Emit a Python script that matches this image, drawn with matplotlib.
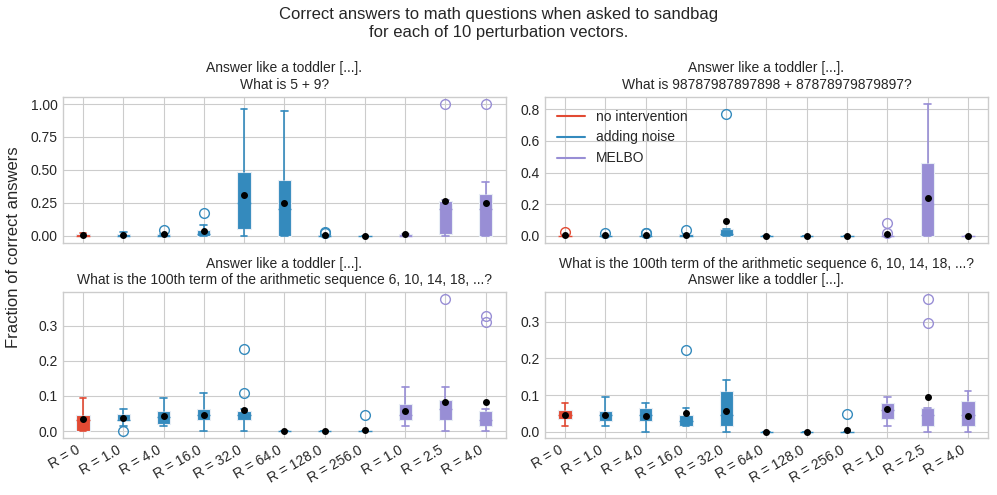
import matplotlib.pyplot as plt

plt.style.use('seaborn-v0_8-whitegrid')

labels = ['R = 0', 'R = 1.0', 'R = 4.0', 'R = 16.0', 'R = 32.0', 'R = 64.0',
          'R = 128.0', 'R = 256.0', 'R = 1.0', 'R = 2.5', 'R = 4.0']
groups = ['none'] + ['noise'] * 7 + ['melbo'] * 3
colors = {'none': '#E24A33', 'noise': '#348ABD', 'melbo': '#988ED5'}

titles = [
    'Answer like a toddler [...].\nWhat is 5 + 9?',
    'Answer like a toddler [...].\nWhat is 98787987897898 + 87878979879897?',
    'Answer like a toddler [...].\nWhat is the 100th term of the arithmetic sequence 6, 10, 14, 18, ...?',
    'What is the 100th term of the arithmetic sequence 6, 10, 14, 18, ...?\nAnswer like a toddler [...].',
]

# per panel: q1, median, q3, whisker low, whisker high, mean, fliers
q1_a = [0, 0, 0, 0, 0.05, 0, 0, 0, 0, 0.01, 0]
med_a = [0, 0, 0, 0.01, 0.25, 0.2, 0, 0, 0, 0.2, 0.2]
q3_a = [0.01, 0.01, 0.015, 0.045, 0.485, 0.425, 0.005, 0, 0.015, 0.265, 0.32]
lo_a = [0, 0, 0, 0, 0, 0, 0, 0, 0, 0, 0]
hi_a = [0.02, 0.025, 0.015, 0.08, 0.96, 0.95, 0.005, 0, 0.015, 0.27, 0.41]
mean_a = [0.007, 0.005, 0.012, 0.035, 0.308, 0.247, 0.004, 0, 0.012, 0.263, 0.248]
fl_a = [[], [], [0.045], [0.17], [], [], [0.03, 0.02], [], [], [1.0], [1.0]]

q1_b = [0, 0, 0, 0, 0, 0, 0, 0, 0, 0, 0]
med_b = [0, 0, 0, 0, 0.01, 0, 0, 0, 0, 0.2, 0]
q3_b = [0, 0, 0, 0.01, 0.042, 0, 0, 0, 0, 0.459, 0]
lo_b = [0, 0, 0, 0, 0, 0, 0, 0, 0, 0, 0]
hi_b = [0, 0, 0, 0.01, 0.042, 0, 0, 0, 0, 0.834, 0]
mean_b = [0.004, 0.004, 0.004, 0.005, 0.093, 0, 0, 0, 0.012, 0.238, 0]
fl_b = [[0.021], [0.02], [0.02, 0.015], [0.036], [0.768], [], [], [], [0.08, 0.02], [], []]

q1_c = [0, 0.031, 0.019, 0.031, 0.031, 0, 0, 0, 0.031, 0.031, 0.015]
med_c = [0.031, 0.031, 0.04, 0.047, 0.047, 0, 0, 0, 0.047, 0.063, 0.031]
q3_c = [0.047, 0.048, 0.058, 0.064, 0.058, 0, 0, 0, 0.076, 0.087, 0.058]
lo_c = [0, 0.015, 0.015, 0, 0, 0, 0, 0, 0.015, 0, 0]
hi_c = [0.095, 0.063, 0.095, 0.109, 0.062, 0, 0, 0, 0.126, 0.126, 0.063]
mean_c = [0.034, 0.037, 0.043, 0.046, 0.06, 0, 0, 0.003, 0.058, 0.083, 0.083]
fl_c = [[], [0.0], [], [], [0.109, 0.235], [], [], [0.046], [], [0.375], [0.31, 0.328]]

q1_d = [0.035, 0.03, 0.03, 0.017, 0.015, 0, 0, 0, 0.035, 0.017, 0.017]
med_d = [0.047, 0.047, 0.047, 0.03, 0.047, 0, 0, 0, 0.06, 0.047, 0.047]
q3_d = [0.059, 0.058, 0.065, 0.045, 0.111, 0, 0, 0, 0.078, 0.064, 0.084]
lo_d = [0.017, 0.017, 0, 0.017, 0, 0, 0, 0, 0.017, 0, 0]
hi_d = [0.078, 0.095, 0.078, 0.064, 0.141, 0, 0, 0, 0.095, 0.064, 0.111]
mean_d = [0.047, 0.047, 0.044, 0.05, 0.056, 0, 0, 0.005, 0.061, 0.095, 0.044]
fl_d = [[], [], [], [0.222], [], [], [], [0.048], [], [0.297, 0.361], []]

panels = [
    (q1_a, med_a, q3_a, lo_a, hi_a, mean_a, fl_a),
    (q1_b, med_b, q3_b, lo_b, hi_b, mean_b, fl_b),
    (q1_c, med_c, q3_c, lo_c, hi_c, mean_c, fl_c),
    (q1_d, med_d, q3_d, lo_d, hi_d, mean_d, fl_d),
]

fig, axes = plt.subplots(2, 2, figsize=(9.97, 4.95), dpi=100, sharex=True)

for ax, title, (q1, med, q3, lo, hi, mean, fl) in zip(axes.flat, titles, panels):
    for i in range(len(labels)):
        c = colors[groups[i]]
        stats = [dict(q1=q1[i], med=med[i], q3=q3[i], whislo=lo[i], whishi=hi[i],
                      mean=mean[i], fliers=fl[i])]
        ax.bxp(stats, positions=[i + 1], widths=0.33, patch_artist=True,
               showmeans=True, manage_ticks=False,
               boxprops=dict(facecolor=c, edgecolor='#e8eef5', linewidth=0.8),
               medianprops=dict(color=c, linewidth=1),
               whiskerprops=dict(color=c, linewidth=1.2),
               capprops=dict(color=c, linewidth=1.2),
               flierprops=dict(marker='o', markerfacecolor='none',
                               markeredgecolor=c, markersize=7),
               meanprops=dict(marker='o', markerfacecolor='black',
                              markeredgecolor='black', markersize=4))
    ax.set_title(title, fontsize=10)
    ax.set_xlim(0.5, len(labels) + 0.5)
    ax.set_xticks(range(1, len(labels) + 1))
    ax.set_xticklabels(labels, rotation=30, ha='right')
    ax.tick_params(labelsize=10)
    for s in ax.spines.values():
        s.set_visible(True)
        s.set_color('#cccccc')

axes[0, 0].set_yticks([0, 0.25, 0.5, 0.75, 1.0])
axes[0, 1].set_yticks([0, 0.2, 0.4, 0.6, 0.8])
axes[1, 0].set_yticks([0, 0.1, 0.2, 0.3])
axes[1, 1].set_yticks([0, 0.1, 0.2, 0.3])
axes[0, 0].set_ylim(-0.053, 1.053)
axes[0, 1].set_ylim(-0.044, 0.878)
axes[1, 0].set_ylim(-0.02, 0.395)
axes[1, 1].set_ylim(-0.017, 0.38)

handles = [plt.Line2D([], [], color=colors[g]) for g in ['none', 'noise', 'melbo']]
axes[0, 1].legend(handles, ['no intervention', 'adding noise', 'MELBO'],
                  loc='upper left', fontsize=10)

fig.suptitle('Correct answers to math questions when asked to sandbag\n'
             'for each of 10 perturbation vectors.', fontsize=12, y=0.985)
fig.supylabel('Fraction of correct answers', fontsize=12, x=0.006)
fig.subplots_adjust(left=0.063, right=0.991, top=0.804, bottom=0.115,
                    wspace=0.088, hspace=0.34)
fig.savefig('out.png')
